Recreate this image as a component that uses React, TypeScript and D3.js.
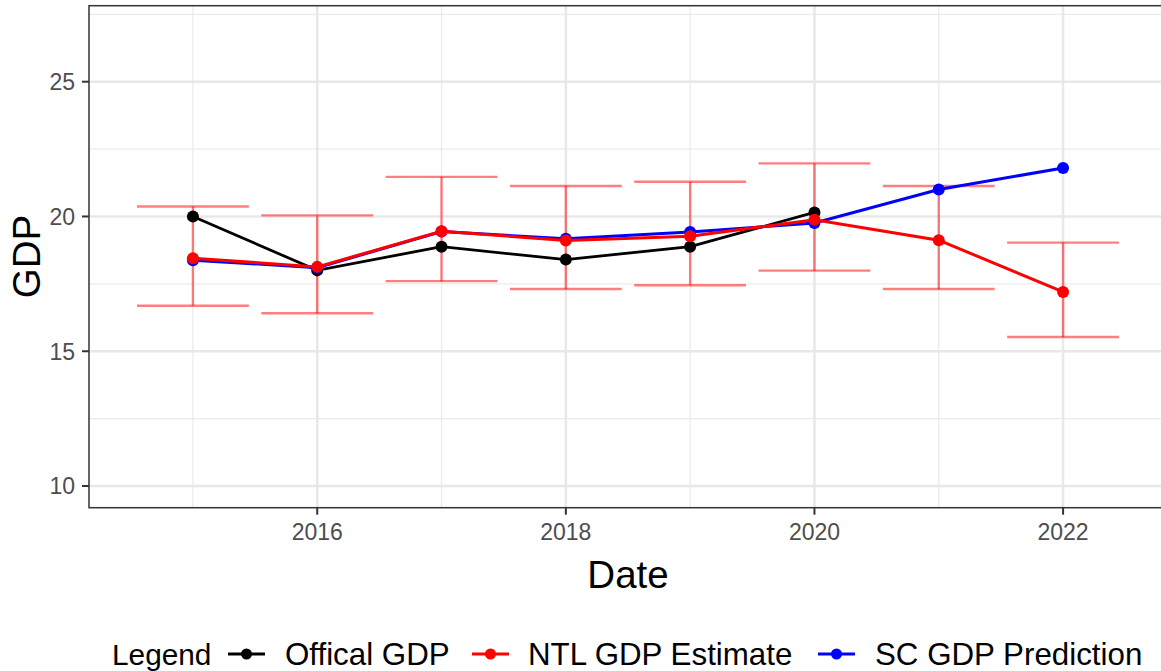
import React from "react";
import * as d3 from "d3";

// Annual GDP series
const years = [2015, 2016, 2017, 2018, 2019, 2020, 2021, 2022];
const officialYears = [2015, 2016, 2017, 2018, 2019, 2020];
const officialGdp = [20.0, 18.0, 18.88, 18.4, 18.88, 20.15];
const ntlEstimate = [18.45, 18.13, 19.45, 19.11, 19.27, 19.88, 19.12, 17.2];
const ntlLower = [16.69, 16.41, 17.6, 17.31, 17.45, 17.99, 17.31, 15.53];
const ntlUpper = [20.37, 20.04, 21.47, 21.13, 21.29, 21.97, 21.13, 19.03];
const scPrediction = [18.38, 18.1, 19.44, 19.17, 19.42, 19.76, 21.0, 21.8];

const yTicks = [10, 15, 20, 25];
const yMinor = [12.5, 17.5, 22.5, 27.5];
const xTicks = [2016, 2018, 2020, 2022];
const xMinor = [2015, 2017, 2019, 2021];

const legendTitle = "Legend";
const legendLabels = ["Offical GDP", "NTL GDP Estimate", "SC GDP Prediction"];
const legendColors = ["#000000", "#FF0000", "#0000FF"];

const W = 1161;
const H = 671;
const panel = { left: 89, right: 1167, top: 5.7, bottom: 507.7 };
const FONT = "Liberation Sans, Arial, Helvetica, sans-serif";

export default function App() {
  const x = d3.scaleLinear().domain([2014.164, 2022.836]).range([panel.left, panel.right]);
  const y = d3.scaleLinear().domain([9.195, 27.82]).range([panel.bottom, panel.top]);

  const line = d3
    .line<[number, number]>()
    .x((d) => x(d[0]))
    .y((d) => y(d[1]));

  const official: [number, number][] = officialYears.map((yr, i) => [yr, officialGdp[i]]);
  const ntl: [number, number][] = years.map((yr, i) => [yr, ntlEstimate[i]]);
  const sc: [number, number][] = years.map((yr, i) => [yr, scPrediction[i]]);

  const capHalf = 0.45;
  const pointR = 6;

  const legendKeyX = [228, 472, 818];
  const legendTextX = [285, 528, 875];
  const legendY = 654;

  return (
    <svg
      width={W}
      height={H}
      style={{ position: "absolute", left: 0, top: 0, background: "#fff" }}
      fontFamily={FONT}
    >
      <defs>
        <clipPath id="panel-clip">
          <rect x={panel.left} y={panel.top} width={panel.right - panel.left} height={panel.bottom - panel.top} />
        </clipPath>
      </defs>
      <rect x={0} y={0} width={W} height={H} fill="#fff" />

      <g clipPath="url(#panel-clip)">
        {/* grid */}
        {yMinor.map((v) => (
          <line key={"ym" + v} x1={panel.left} x2={panel.right} y1={y(v)} y2={y(v)} stroke="#EBEBEB" strokeWidth={1.3} />
        ))}
        {xMinor.map((v) => (
          <line key={"xm" + v} y1={panel.top} y2={panel.bottom} x1={x(v)} x2={x(v)} stroke="#EBEBEB" strokeWidth={1.3} />
        ))}
        {yTicks.map((v) => (
          <line key={"yg" + v} x1={panel.left} x2={panel.right} y1={y(v)} y2={y(v)} stroke="#E8E8E8" strokeWidth={2.5} />
        ))}
        {xTicks.map((v) => (
          <line key={"xg" + v} y1={panel.top} y2={panel.bottom} x1={x(v)} x2={x(v)} stroke="#E8E8E8" strokeWidth={2.5} />
        ))}

        {/* NTL error bars */}
        <g stroke="#FF0000" strokeOpacity={0.5} strokeWidth={2.4}>
          {years.map((yr, i) => (
            <g key={"eb" + yr}>
              <line x1={x(yr)} x2={x(yr)} y1={y(ntlLower[i])} y2={y(ntlUpper[i])} />
              <line x1={x(yr - capHalf)} x2={x(yr + capHalf)} y1={y(ntlLower[i])} y2={y(ntlLower[i])} />
              <line x1={x(yr - capHalf)} x2={x(yr + capHalf)} y1={y(ntlUpper[i])} y2={y(ntlUpper[i])} />
            </g>
          ))}
        </g>

        {/* series */}
        <path d={line(official) || ""} fill="none" stroke="#000" strokeWidth={2.8} />
        {official.map((d) => (
          <circle key={"o" + d[0]} cx={x(d[0])} cy={y(d[1])} r={pointR} fill="#000" />
        ))}
        <path d={line(sc) || ""} fill="none" stroke="#0000FF" strokeWidth={3} />
        {sc.map((d) => (
          <circle key={"s" + d[0]} cx={x(d[0])} cy={y(d[1])} r={pointR} fill="#0000FF" />
        ))}
        <path d={line(ntl) || ""} fill="none" stroke="#FF0000" strokeWidth={3} />
        {ntl.map((d) => (
          <circle key={"n" + d[0]} cx={x(d[0])} cy={y(d[1])} r={pointR} fill="#FF0000" />
        ))}
      </g>

      {/* panel border */}
      <rect
        x={panel.left}
        y={panel.top}
        width={panel.right - panel.left}
        height={panel.bottom - panel.top}
        fill="none"
        stroke="#333333"
        strokeWidth={1.5}
      />

      {/* y axis */}
      {yTicks.map((v) => (
        <g key={"yt" + v}>
          <line x1={panel.left - 7} x2={panel.left} y1={y(v)} y2={y(v)} stroke="#333333" strokeWidth={2} />
          <text x={panel.left - 14} y={y(v)} dy="0.36em" textAnchor="end" fontSize={23} fill="#4D4D4D">
            {v}
          </text>
        </g>
      ))}

      {/* x axis */}
      {xTicks.map((v) => (
        <g key={"xt" + v}>
          <line x1={x(v)} x2={x(v)} y1={panel.bottom} y2={panel.bottom + 7} stroke="#333333" strokeWidth={2} />
          <text x={x(v)} y={539.5} textAnchor="middle" fontSize={23} fill="#4D4D4D">
            {v}
          </text>
        </g>
      ))}

      {/* axis titles */}
      <text x={628} y={588} textAnchor="middle" fontSize={38.5} fill="#000">
        Date
      </text>
      <text transform="translate(40,256.5) rotate(-90)" textAnchor="middle" fontSize={38.5} fill="#000">
        GDP
      </text>

      {/* legend */}
      <text x={112} y={665} fontSize={29.8} fill="#000">
        {legendTitle}
      </text>
      {legendLabels.map((lab, i) => (
        <g key={lab}>
          <line
            x1={legendKeyX[i]}
            x2={legendKeyX[i] + 37}
            y1={legendY}
            y2={legendY}
            stroke={legendColors[i]}
            strokeWidth={3}
          />
          <circle cx={legendKeyX[i] + 18.5} cy={legendY} r={5.5} fill={legendColors[i]} />
          <text x={legendTextX[i]} y={665} fontSize={31.3} fill="#000">
            {lab}
          </text>
        </g>
      ))}
    </svg>
  );
}
